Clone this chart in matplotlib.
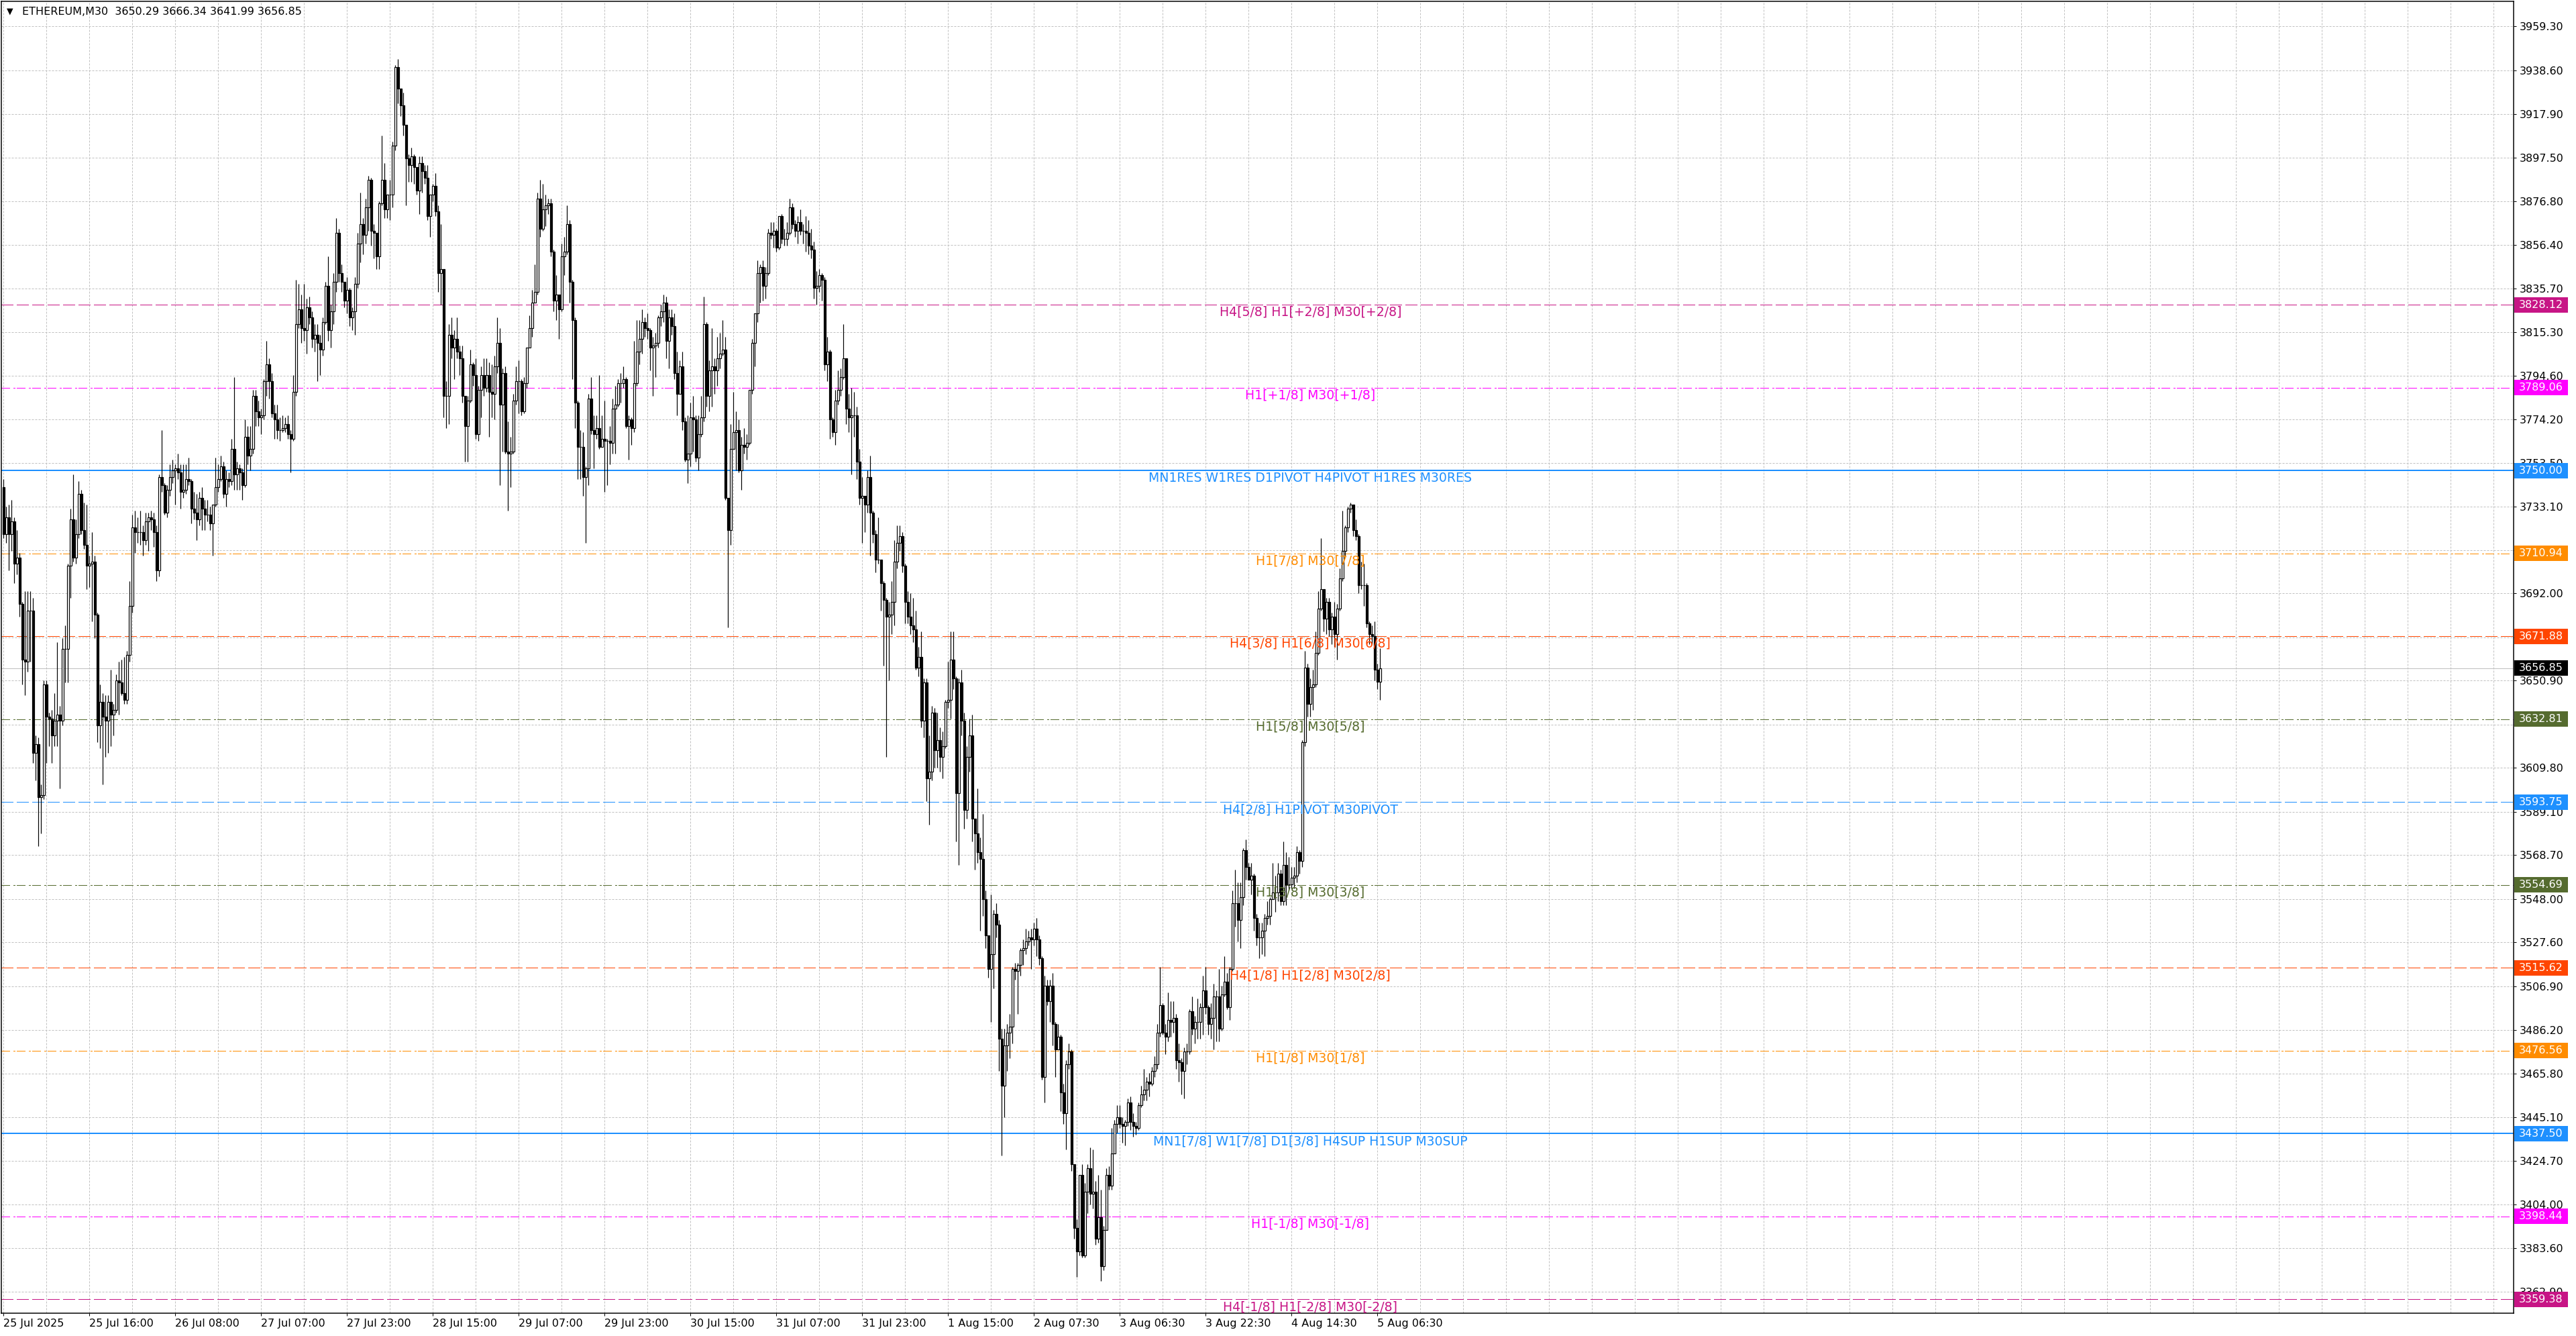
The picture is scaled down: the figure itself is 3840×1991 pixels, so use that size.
import matplotlib.pyplot as plt
import matplotlib.transforms as mtransforms
from matplotlib.patches import Rectangle
import numpy as np

# ETHEREUM M30 candles (one row = 16 bars)
header = "ETHEREUM,M30  3650.29 3666.34 3641.99 3656.85"
first_open = 3742

closes = [
    3720, 3728, 3720, 3726, 3706, 3709, 3687, 3661, 3660, 3684, 3684, 3617, 3621, 3596, 3597, 3649,
    3634, 3633, 3625, 3632, 3635, 3632, 3666, 3666, 3705, 3727, 3709, 3720, 3739, 3722, 3715, 3705,
    3706, 3707, 3682, 3630, 3641, 3634, 3632, 3641, 3635, 3637, 3651, 3650, 3645, 3642, 3663, 3686,
    3723, 3721, 3721, 3721, 3717, 3726, 3728, 3727, 3721, 3703, 3747, 3743, 3730, 3741, 3747, 3750,
    3751, 3749, 3740, 3741, 3746, 3745, 3732, 3730, 3727, 3737, 3732, 3729, 3729, 3725, 3734, 3742,
    3746, 3752, 3739, 3746, 3745, 3760, 3748, 3751, 3749, 3743, 3766, 3757, 3760, 3785, 3778, 3775,
    3776, 3792, 3800, 3792, 3777, 3774, 3769, 3769, 3770, 3772, 3767, 3765, 3787, 3819, 3826, 3817,
    3816, 3827, 3822, 3812, 3814, 3810, 3807, 3820, 3837, 3816, 3825, 3839, 3862, 3843, 3839, 3830,
    3835, 3822, 3825, 3838, 3857, 3866, 3861, 3874, 3887, 3863, 3862, 3851, 3876, 3887, 3873, 3880,
    3880, 3903, 3940, 3930, 3922, 3913, 3897, 3894, 3898, 3893, 3882, 3895, 3891, 3888, 3870, 3880,
    3884, 3872, 3843, 3845, 3785, 3785, 3814, 3808, 3812, 3806, 3803, 3785, 3771, 3783, 3800, 3795,
    3767, 3788, 3795, 3789, 3795, 3787, 3786, 3799, 3810, 3781, 3796, 3759, 3758, 3759, 3783, 3792,
    3792, 3778, 3791, 3808, 3817, 3829, 3834, 3878, 3864, 3873, 3875, 3876, 3853, 3830, 3833, 3826,
    3851, 3853, 3866, 3839, 3821, 3782, 3761, 3761, 3747, 3751, 3784, 3769, 3767, 3770, 3761, 3765,
    3764, 3764, 3763, 3779, 3781, 3791, 3791, 3793, 3771, 3774, 3770, 3791, 3806, 3812, 3820, 3817,
    3816, 3808, 3809, 3810, 3822, 3825, 3829, 3811, 3822, 3818, 3796, 3786, 3799, 3773, 3755, 3758,
    3775, 3774, 3756, 3767, 3775, 3819, 3785, 3797, 3799, 3797, 3803, 3805, 3807, 3737, 3722, 3760,
    3768, 3769, 3750, 3762, 3761, 3763, 3788, 3810, 3824, 3843, 3846, 3837, 3843, 3862, 3861, 3863,
    3855, 3870, 3859, 3859, 3862, 3874, 3866, 3863, 3867, 3863, 3863, 3862, 3856, 3854, 3836, 3837,
    3842, 3840, 3800, 3806, 3774, 3768, 3783, 3788, 3794, 3803, 3779, 3775, 3776, 3776, 3754, 3737,
    3738, 3734, 3747, 3730, 3720, 3708, 3708, 3697, 3689, 3681, 3682, 3688, 3707, 3716, 3719, 3705,
    3688, 3681, 3677, 3675, 3657, 3662, 3632, 3650, 3605, 3608, 3636, 3618, 3623, 3615, 3620, 3641,
    3642, 3661, 3652, 3598, 3650, 3632, 3590, 3615, 3625, 3586, 3579, 3570, 3567, 3548, 3531, 3515,
    3522, 3541, 3536, 3482, 3460, 3479, 3485, 3488, 3515, 3514, 3517, 3524, 3525, 3528, 3530, 3529,
    3534, 3529, 3520, 3464, 3507, 3500, 3507, 3489, 3477, 3483, 3457, 3447, 3470, 3476, 3423, 3393,
    3382, 3418, 3380, 3410, 3421, 3409, 3410, 3388, 3398, 3375, 3392, 3418, 3413, 3428, 3442, 3445,
    3442, 3441, 3443, 3452, 3443, 3441, 3440, 3451, 3456, 3458, 3462, 3461, 3467, 3470, 3485, 3498,
    3485, 3483, 3491, 3490, 3492, 3472, 3471, 3467, 3476, 3476, 3495, 3487, 3490, 3490, 3497, 3505,
    3497, 3489, 3492, 3502, 3502, 3487, 3503, 3509, 3497, 3515, 3546, 3546, 3538, 3549, 3571, 3563,
    3557, 3559, 3539, 3530, 3530, 3533, 3539, 3540, 3548, 3551, 3551, 3560, 3547, 3564, 3555, 3555,
    3558, 3559, 3570, 3566, 3622, 3657, 3640, 3648, 3649, 3664, 3685, 3694, 3680, 3688, 3675, 3681,
    3673, 3685, 3699, 3712, 3723, 3732, 3734, 3722, 3719, 3696, 3696, 3696, 3678, 3673, 3672, 3656,
    3650.29, 3656.85,
]

highs = [
    3746, 3733, 3734, 3736, 3728, 3722, 3711, 3688, 3693, 3693, 3693, 3690, 3625, 3624, 3602, 3651,
    3651, 3636, 3637, 3645, 3669, 3639, 3671, 3677, 3706, 3732, 3748, 3727, 3745, 3741, 3735, 3734,
    3710, 3721, 3710, 3683, 3649, 3645, 3644, 3644, 3656, 3640, 3654, 3660, 3661, 3662, 3665, 3698,
    3729, 3731, 3728, 3731, 3724, 3730, 3730, 3731, 3730, 3724, 3748, 3769, 3744, 3743, 3753, 3755,
    3753, 3758, 3753, 3753, 3753, 3756, 3746, 3740, 3739, 3740, 3742, 3736, 3736, 3733, 3734, 3756,
    3753, 3757, 3754, 3750, 3749, 3765, 3794, 3754, 3753, 3751, 3774, 3771, 3771, 3788, 3788, 3783,
    3779, 3793, 3811, 3803, 3796, 3781, 3781, 3775, 3776, 3775, 3776, 3769, 3795, 3840, 3838, 3833,
    3838, 3831, 3832, 3825, 3819, 3819, 3814, 3822, 3839, 3851, 3828, 3843, 3869, 3864, 3847, 3839,
    3841, 3836, 3827, 3841, 3862, 3881, 3869, 3878, 3889, 3888, 3866, 3862, 3877, 3908, 3895, 3880,
    3887, 3905, 3941, 3944, 3930, 3928, 3913, 3899, 3902, 3899, 3893, 3898, 3898, 3894, 3894, 3880,
    3885, 3890, 3875, 3866, 3845, 3792, 3819, 3822, 3816, 3822, 3809, 3809, 3785, 3785, 3807, 3801,
    3803, 3790, 3799, 3803, 3803, 3801, 3800, 3804, 3822, 3817, 3798, 3799, 3773, 3766, 3786, 3799,
    3802, 3793, 3794, 3808, 3823, 3835, 3847, 3881, 3887, 3885, 3880, 3878, 3878, 3854, 3842, 3833,
    3857, 3860, 3875, 3868, 3840, 3822, 3783, 3769, 3768, 3752, 3786, 3794, 3776, 3776, 3795, 3776,
    3783, 3765, 3771, 3784, 3790, 3793, 3796, 3799, 3794, 3776, 3775, 3811, 3821, 3821, 3826, 3822,
    3824, 3817, 3813, 3815, 3823, 3828, 3833, 3832, 3826, 3826, 3824, 3806, 3802, 3806, 3775, 3776,
    3782, 3785, 3776, 3776, 3785, 3832, 3820, 3802, 3817, 3803, 3813, 3815, 3821, 3813, 3737, 3772,
    3787, 3778, 3774, 3766, 3770, 3767, 3788, 3812, 3824, 3849, 3847, 3849, 3846, 3864, 3867, 3867,
    3864, 3870, 3871, 3864, 3867, 3878, 3876, 3868, 3870, 3873, 3866, 3870, 3868, 3864, 3858, 3844,
    3845, 3843, 3841, 3813, 3807, 3775, 3788, 3797, 3798, 3819, 3803, 3786, 3789, 3787, 3780, 3760,
    3747, 3738, 3750, 3757, 3731, 3722, 3728, 3708, 3698, 3690, 3688, 3698, 3717, 3724, 3724, 3721,
    3706, 3693, 3692, 3690, 3684, 3667, 3674, 3652, 3652, 3625, 3639, 3638, 3636, 3629, 3627, 3642,
    3660, 3674, 3674, 3653, 3652, 3656, 3636, 3620, 3633, 3635, 3586, 3600, 3577, 3588, 3552, 3531,
    3550, 3543, 3546, 3538, 3487, 3487, 3489, 3494, 3516, 3518, 3518, 3525, 3529, 3534, 3533, 3534,
    3537, 3539, 3531, 3521, 3512, 3510, 3510, 3513, 3490, 3489, 3484, 3461, 3472, 3480, 3477, 3423,
    3397, 3418, 3423, 3414, 3423, 3431, 3430, 3415, 3418, 3411, 3394, 3421, 3422, 3440, 3444, 3451,
    3451, 3445, 3444, 3454, 3455, 3447, 3443, 3452, 3460, 3468, 3464, 3466, 3469, 3474, 3489, 3516,
    3499, 3489, 3504, 3500, 3500, 3494, 3480, 3473, 3478, 3480, 3496, 3502, 3493, 3501, 3499, 3512,
    3516, 3498, 3499, 3508, 3505, 3515, 3507, 3521, 3513, 3516, 3552, 3562, 3556, 3556, 3572, 3576,
    3565, 3565, 3560, 3541, 3537, 3537, 3541, 3547, 3549, 3565, 3559, 3565, 3562, 3575, 3570, 3568,
    3563, 3563, 3573, 3571, 3623, 3665, 3659, 3652, 3656, 3674, 3693, 3718, 3694, 3690, 3690, 3683,
    3688, 3687, 3704, 3731, 3724, 3733, 3735, 3733, 3727, 3720, 3707, 3706, 3697, 3679, 3677, 3679,
    3659, 3666.34,
]

lows = [
    3718, 3716, 3703, 3712, 3697, 3701, 3681, 3649, 3644, 3655, 3660, 3612, 3604, 3573, 3579, 3595,
    3612, 3620, 3612, 3620, 3620, 3600, 3630, 3650, 3650, 3690, 3707, 3706, 3718, 3720, 3713, 3694,
    3695, 3679, 3671, 3622, 3619, 3602, 3615, 3617, 3620, 3625, 3636, 3635, 3644, 3640, 3640, 3660,
    3683, 3711, 3716, 3715, 3710, 3715, 3712, 3722, 3714, 3698, 3700, 3740, 3729, 3728, 3738, 3744,
    3734, 3746, 3732, 3737, 3739, 3743, 3725, 3727, 3717, 3724, 3722, 3722, 3726, 3722, 3710, 3733,
    3740, 3745, 3737, 3733, 3742, 3743, 3741, 3741, 3741, 3736, 3742, 3753, 3750, 3758, 3771, 3771,
    3767, 3774, 3785, 3784, 3775, 3765, 3765, 3764, 3768, 3768, 3765, 3749, 3764, 3785, 3817, 3810,
    3811, 3805, 3819, 3808, 3806, 3792, 3795, 3804, 3819, 3811, 3808, 3819, 3834, 3839, 3834, 3827,
    3824, 3818, 3816, 3814, 3836, 3848, 3852, 3857, 3863, 3856, 3850, 3845, 3845, 3875, 3869, 3869,
    3868, 3874, 3901, 3923, 3917, 3908, 3875, 3886, 3886, 3885, 3880, 3871, 3881, 3885, 3868, 3860,
    3877, 3870, 3834, 3828, 3775, 3770, 3772, 3803, 3793, 3803, 3795, 3782, 3754, 3754, 3782, 3790,
    3765, 3764, 3775, 3785, 3787, 3766, 3775, 3774, 3796, 3743, 3759, 3758, 3731, 3742, 3758, 3781,
    3777, 3776, 3777, 3789, 3808, 3813, 3832, 3833, 3860, 3863, 3865, 3871, 3851, 3825, 3821, 3812,
    3825, 3842, 3852, 3829, 3793, 3770, 3746, 3746, 3738, 3716, 3743, 3767, 3751, 3765, 3760, 3761,
    3740, 3743, 3753, 3758, 3758, 3780, 3782, 3789, 3770, 3755, 3762, 3768, 3790, 3800, 3805, 3813,
    3812, 3797, 3785, 3794, 3808, 3818, 3820, 3803, 3798, 3814, 3793, 3776, 3794, 3769, 3754, 3744,
    3752, 3759, 3754, 3750, 3766, 3773, 3780, 3778, 3780, 3786, 3790, 3798, 3804, 3736, 3676, 3715,
    3760, 3750, 3749, 3741, 3758, 3755, 3762, 3786, 3799, 3820, 3829, 3830, 3831, 3842, 3859, 3855,
    3853, 3854, 3857, 3856, 3856, 3861, 3864, 3860, 3857, 3861, 3857, 3853, 3852, 3850, 3831, 3828,
    3834, 3830, 3797, 3792, 3765, 3766, 3762, 3781, 3785, 3793, 3772, 3768, 3748, 3766, 3746, 3734,
    3716, 3721, 3730, 3710, 3716, 3702, 3706, 3684, 3658, 3615, 3651, 3673, 3677, 3704, 3712, 3702,
    3678, 3678, 3673, 3669, 3656, 3653, 3629, 3624, 3594, 3583, 3604, 3610, 3610, 3608, 3605, 3619,
    3638, 3633, 3647, 3575, 3564, 3625, 3581, 3586, 3608, 3575, 3562, 3565, 3533, 3540, 3525, 3511,
    3490, 3506, 3530, 3467, 3427, 3445, 3467, 3473, 3480, 3510, 3494, 3512, 3517, 3522, 3526, 3515,
    3526, 3521, 3517, 3463, 3452, 3498, 3490, 3479, 3464, 3478, 3448, 3442, 3430, 3468, 3420, 3388,
    3370, 3380, 3379, 3379, 3400, 3404, 3402, 3385, 3386, 3368, 3373, 3410, 3411, 3411, 3428, 3438,
    3440, 3433, 3432, 3441, 3439, 3436, 3437, 3439, 3450, 3453, 3453, 3455, 3460, 3464, 3468, 3483,
    3484, 3475, 3481, 3483, 3485, 3468, 3462, 3456, 3454, 3470, 3475, 3484, 3480, 3482, 3482, 3484,
    3494, 3484, 3482, 3477, 3481, 3481, 3486, 3502, 3496, 3491, 3514, 3535, 3528, 3525, 3545, 3557,
    3557, 3550, 3533, 3526, 3520, 3522, 3521, 3536, 3536, 3549, 3542, 3547, 3545, 3545, 3545, 3552,
    3553, 3553, 3556, 3560, 3563, 3620, 3634, 3634, 3637, 3648, 3663, 3684, 3674, 3673, 3672, 3668,
    3667, 3661, 3684, 3698, 3710, 3721, 3730, 3719, 3717, 3692, 3694, 3686, 3676, 3668, 3668, 3651,
    3647, 3641.99,
]

# Murrey / pivot levels drawn by the indicator
level_prices = [3828.12, 3789.06, 3750.00, 3710.94, 3671.88, 3632.81, 3593.75,
                3554.69, 3515.62, 3476.56, 3437.50, 3398.44, 3359.38]
level_names = [
    "H4[5/8] H1[+2/8] M30[+2/8]",
    "H1[+1/8] M30[+1/8]",
    "MN1RES W1RES D1PIVOT H4PIVOT H1RES M30RES",
    "H1[7/8] M30[7/8]",
    "H4[3/8] H1[6/8] M30[6/8]",
    "H1[5/8] M30[5/8]",
    "H4[2/8] H1PIVOT M30PIVOT",
    "H1[3/8] M30[3/8]",
    "H4[1/8] H1[2/8] M30[2/8]",
    "H1[1/8] M30[1/8]",
    "MN1[7/8] W1[7/8] D1[3/8] H4SUP H1SUP M30SUP",
    "H1[-1/8] M30[-1/8]",
    "H4[-1/8] H1[-2/8] M30[-2/8]",
]
level_colors = ["#C71585", "#FF00FF", "#1E90FF", "#FF8C00", "#FF4500", "#556B2F", "#1E90FF",
                "#556B2F", "#FF4500", "#FF8C00", "#1E90FF", "#FF00FF", "#C71585"]
level_kinds = ["dash", "dashdot", "solid", "dashdot", "dash", "dashdot", "dash",
               "dashdot", "dash", "dashdot", "solid", "dashdot", "dash"]

price_ticks = [3959.30, 3938.60, 3917.90, 3897.50, 3876.80, 3856.40, 3835.70, 3815.30,
               3794.60, 3774.20, 3753.50, 3733.10, 3712.40, 3692.00, 3671.40, 3650.90,
               3630.30, 3609.80, 3589.10, 3568.70, 3548.00, 3527.60, 3506.90, 3486.20,
               3465.80, 3445.10, 3424.70, 3404.00, 3383.60, 3362.90]
hidden_ticks = [3671.40, 3630.30]

time_labels = ["25 Jul 2025", "25 Jul 16:00", "26 Jul 08:00", "27 Jul 07:00", "27 Jul 23:00",
               "28 Jul 15:00", "29 Jul 07:00", "29 Jul 23:00", "30 Jul 15:00", "31 Jul 07:00",
               "31 Jul 23:00", "1 Aug 15:00", "2 Aug 07:30", "3 Aug 06:30", "3 Aug 22:30",
               "4 Aug 14:30", "5 Aug 06:30"]
last_price = 3656.85

W, H = 3840, 1991
px = 0.72  # one pixel in points at dpi 100

fig = plt.figure(figsize=(W / 100, H / 100), dpi=100)
fig.patch.set_facecolor("white")
ax = fig.add_axes([2 / W, 1 - 1957 / H, 3745 / W, 1955 / H])
ax.set_facecolor("white")

x = np.arange(len(closes))
c = np.array(closes, dtype=float)
o = np.concatenate([[first_open], c[:-1]])
h = np.maximum(np.array(highs, dtype=float), np.maximum(o, c))
l = np.minimum(np.array(lows, dtype=float), np.minimum(o, c))

ax.vlines(x, l, h, color="black", lw=px * 1.2, zorder=3)
bottoms = np.minimum(o, c)
heights = np.maximum(np.abs(c - o), 0.05)
faces = ["white" if cc >= oo else "black" for oo, cc in zip(o, c)]
ax.bar(x, heights, width=0.7, bottom=bottoms, color=faces, edgecolor="black",
       linewidth=px * 1.2, zorder=4)

ax.set_xlim(-0.83, 935.4)
ax.set_ylim(3352.8, 3971.1)

# level lines and labels (dash lengths in line-width units, ~18px / 6px)
styles = {"dash": (0, (13.8, 4.6)), "dashdot": (0, (10, 3.9, 1.6, 2.3)), "solid": "-"}
for p, name, col, kind in zip(level_prices, level_names, level_colors, level_kinds):
    lw = px * 2 if kind == "solid" else px * 1.3
    ax.axhline(p, color=col, lw=lw, linestyle=styles[kind], antialiased=False, zorder=2)
    ax.text(487, p - 0.6, name, color=col, fontsize=13.6, ha="center", va="top", zorder=6)

ax.axhline(last_price, color="#C0C0C0", lw=px, antialiased=False, zorder=1.5)

# right-hand price boxes
trans = mtransforms.blended_transform_factory(ax.transAxes, ax.transData)
box_w = 80 / 3745
box_h = 23 / 3.162
for p, col in list(zip(level_prices, level_colors)) + [(last_price, "black")]:
    ax.add_patch(Rectangle((1.0003, p - box_h / 2), box_w, box_h, transform=trans,
                           facecolor=col, edgecolor="none", clip_on=False, zorder=10))
    ax.text(1.0003 + box_w / 2, p, f"{p:.2f}", transform=trans, color="white",
            fontsize=11.5, ha="center", va="center", clip_on=False, zorder=11)

# axes, ticks, grid
ax.yaxis.tick_right()
ax.set_yticks(price_ticks)
ax.set_yticklabels(["" if t in hidden_ticks else f"{t:.2f}" for t in price_ticks])
ax.tick_params(axis="y", length=3, width=px, pad=3, labelsize=11.5, colors="black")

ax.set_xticks(np.arange(0, 32 * len(time_labels), 32))
ax.set_xticklabels(time_labels, ha="left")
ax.set_xticks(np.arange(0, 936, 16), minor=True)
ax.tick_params(axis="x", which="major", length=3, width=px, pad=3, labelsize=11.5)
ax.tick_params(axis="x", which="minor", length=0)

grid_kw = dict(color="#C0C0C0", lw=px, linestyle=(0, (3, 2)))
ax.grid(True, axis="y", **grid_kw)
ax.grid(True, axis="x", which="both", **grid_kw)
ax.set_axisbelow(True)
for s in ax.spines.values():
    s.set_color("black")
    s.set_linewidth(px * 1.5)

# header line top-left
ax.text(8 / 3745, 1 - 15 / 1955, "\u25bc", transform=ax.transAxes, fontsize=9,
        va="center", ha="left", zorder=7)
ax.text(31 / 3745, 1 - 15 / 1955, header, transform=ax.transAxes, fontsize=11.5,
        va="center", ha="left", zorder=7)

fig.savefig("out.png", dpi=100)
